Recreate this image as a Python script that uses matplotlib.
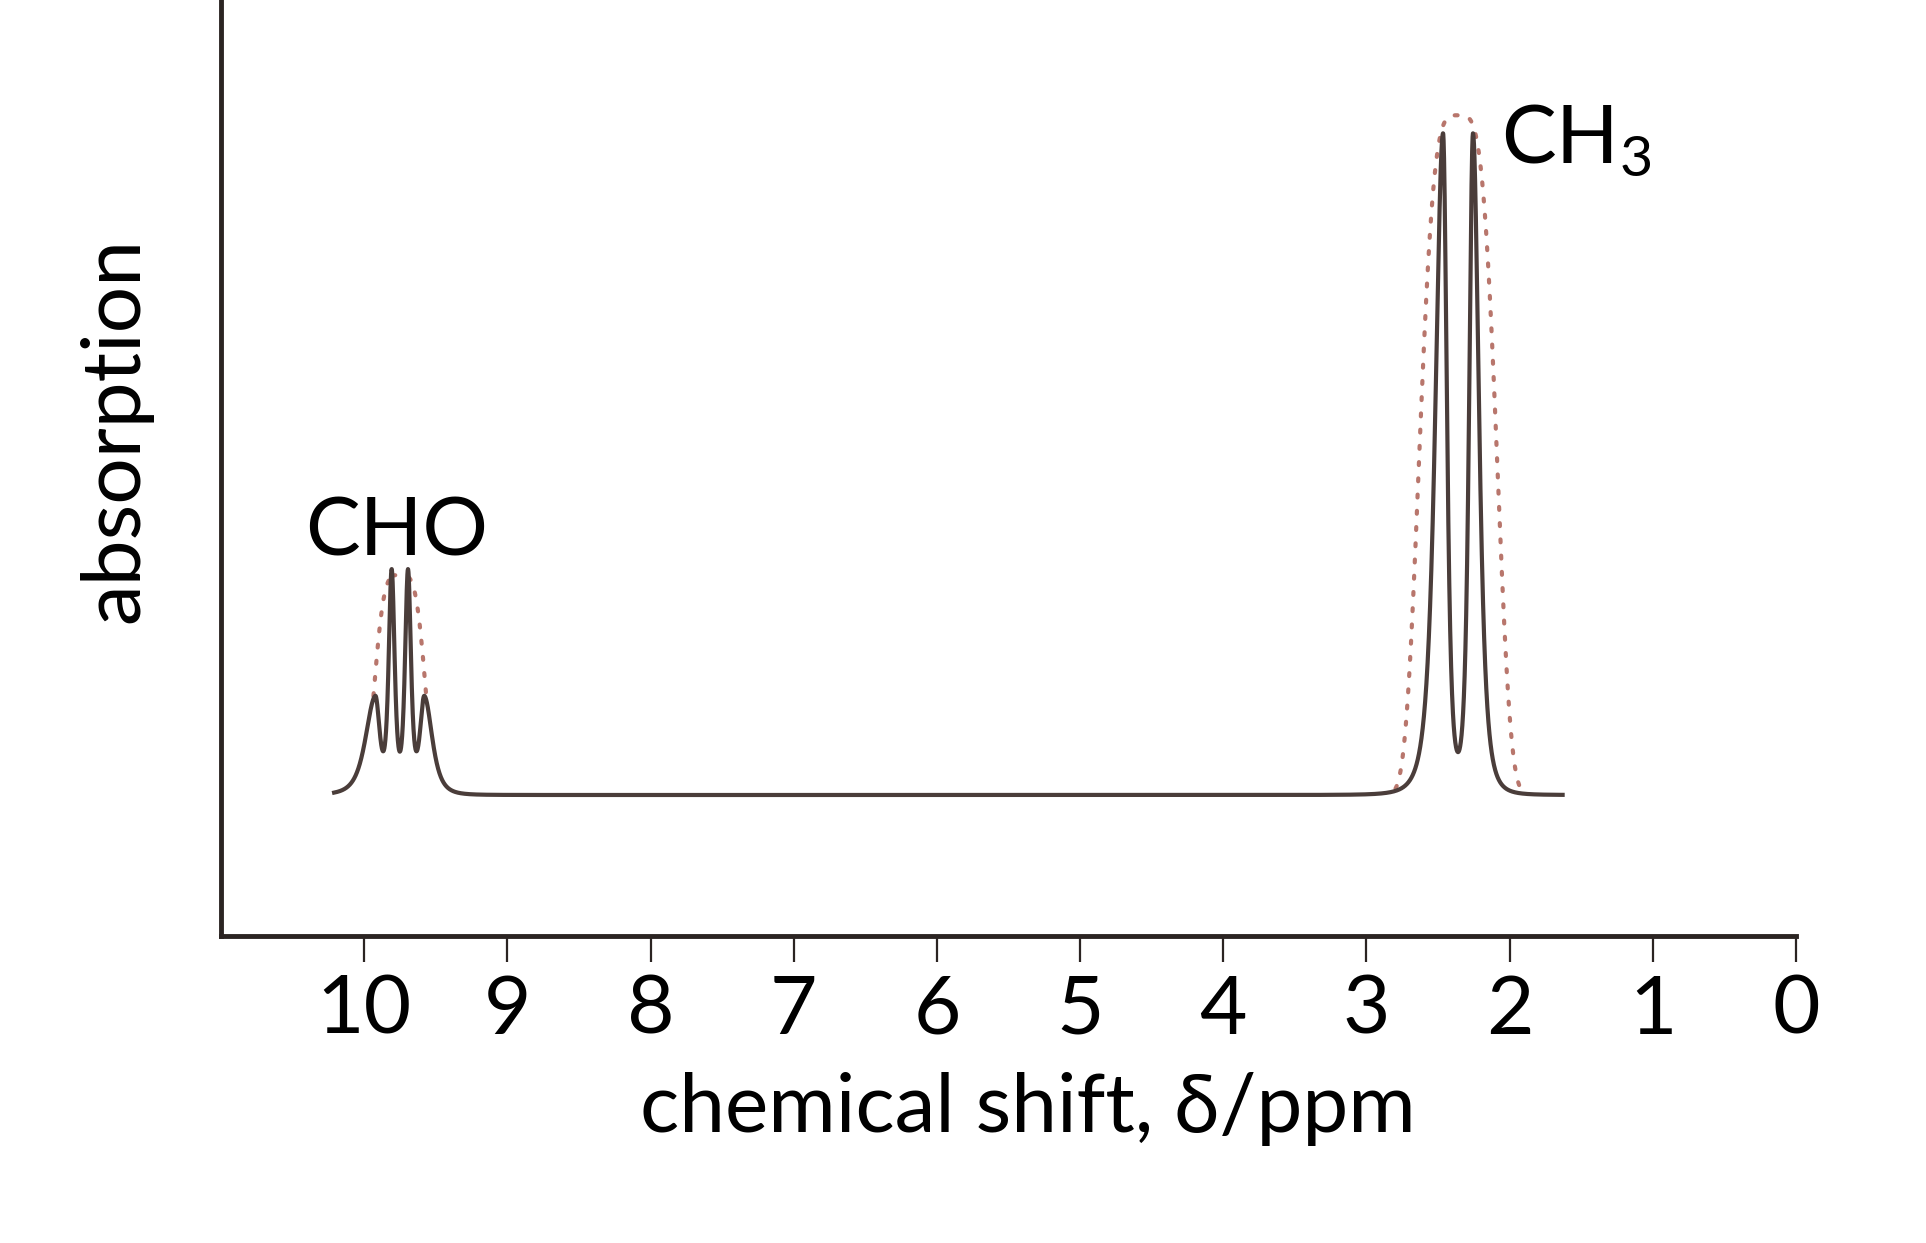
import numpy as np
import matplotlib
matplotlib.use('Agg')
import matplotlib.pyplot as plt

# NMR 谱图：CHO 四重峰 + CH3 二重峰，虚线为未分裂的包络
cho_centres = [9.922, 9.808, 9.694, 9.580]
cho_heights = [0.44, 1.0, 1.0, 0.44]
cho_w_hi = [0.124, 0.038, 0.038, 0.055]   # 高 ppm 一侧的半宽
cho_w_lo = [0.055, 0.038, 0.038, 0.100]   # 低 ppm 一侧的半宽

ch3_centres = [2.465, 2.256]
ch3_heights = [3.0, 3.0]
ch3_w_hi = [0.097, 0.049]
ch3_w_lo = [0.049, 0.076]

env_centres = [9.751, 2.360]
env_heights = [1.0, 3.09]
env_widths = [0.164, 0.250]

shift_start, shift_end = 10.21, 1.63
tick_values = [10, 9, 8, 7, 6, 5, 4, 3, 2, 1, 0]

plt.rcParams['font.family'] = ['Lato', 'DejaVu Sans']
plt.rcParams['mathtext.fontset'] = 'custom'
plt.rcParams['mathtext.rm'] = 'Lato'

line_col = '#4a3d3a'
dot_col = '#b8766c'
axis_col = '#2b2422'
fs = 59


def line_shape(x, c, h, w_hi, w_lo, p=2.0):
    w = np.where(x >= c, w_hi, w_lo)
    return h * (1 + ((x - c) / w) ** 2) ** (-p)


x = np.linspace(shift_start, shift_end, 8000)
y = np.zeros_like(x)
for c, h, a, b in zip(cho_centres + ch3_centres, cho_heights + ch3_heights,
                      cho_w_hi + ch3_w_hi, cho_w_lo + ch3_w_lo):
    y += line_shape(x, c, h, a, b)

env = np.zeros_like(x)
for c, h, s in zip(env_centres, env_heights, env_widths):
    env += h * np.exp(-0.5 * np.abs((x - c) / s) ** 4)
env_show = np.where(env > y + 0.01, env, np.nan)

fig = plt.figure(figsize=(19.26, 12.43), dpi=100)
ax = fig.add_axes([221 / 1926, 307 / 1243, 1575 / 1926, 936 / 1243])

ax.plot(x, env_show, color=dot_col, lw=3, linestyle=(0, (0.7, 3.2)),
        dash_capstyle='round', zorder=2)
ax.plot(x, y, color=line_col, lw=3, zorder=3, solid_joinstyle='round')

ax.set_xlim(11.0, 0)
ax.set_ylim(-0.641, 3.614)

for s in ['top', 'right']:
    ax.spines[s].set_visible(False)
for s in ['left', 'bottom']:
    ax.spines[s].set_linewidth(3.5)
    ax.spines[s].set_color(axis_col)

ax.set_xticks(tick_values)
ax.set_xticklabels([str(t) for t in tick_values])
ax.tick_params(axis='x', direction='out', length=19, width=1.6, color=axis_col,
               labelsize=fs, pad=8)
ax.set_yticks([])

ax.set_xlabel('chemical shift, δ/ppm', fontsize=fs)
ax.xaxis.label.set_va('baseline')
ax.xaxis.set_label_coords(0.512, -0.2094)
ax.set_ylabel('absorption', fontsize=fs)
ax.yaxis.label.set_va('baseline')
ax.yaxis.set_label_coords(-0.0527, 0.5406)

ax.text(9.77, 1.09, 'CHO', fontsize=fs, ha='center', va='baseline')
ax.text(2.06, 2.877, r'CH$_\mathregular{3}$', fontsize=fs, ha='left', va='baseline')

fig.savefig('out.png', dpi=100, facecolor='white')
